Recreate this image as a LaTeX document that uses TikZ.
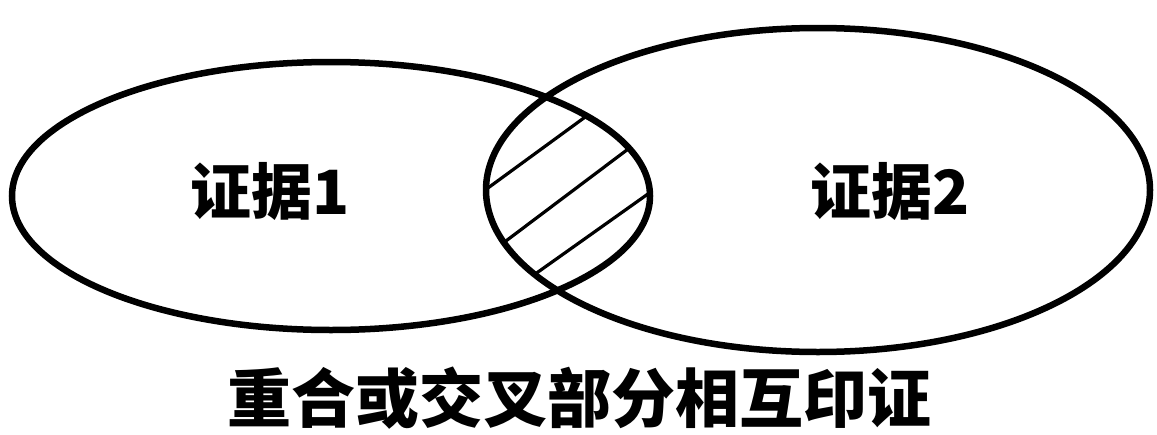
\documentclass[tikz,border=0pt]{standalone}
\usepackage{fontspec}
\newfontfamily\cjk{Noto Sans CJK SC}
\begin{document}
\begin{tikzpicture}[x=1pt,y=-1pt,
  outline/.style={line width=6.5pt,draw=black},
  hatch/.style={line width=3.2pt,draw=black},
  lbl/.style={font=\cjk\bfseries\fontsize{61}{61}\selectfont,inner sep=0pt,anchor=center},
  caption/.style={font=\cjk\bfseries\fontsize{64}{64}\selectfont,inner sep=0pt,anchor=center}]
\useasboundingbox (0,0) rectangle (1157,434);
\fill[white] (0,0) rectangle (1157,434);
% hatching in the overlap
\begin{scope}
  \clip (331,196) ellipse [x radius=319pt, y radius=134pt];
  \clip (818,190) ellipse [x radius=332pt, y radius=162pt];
  \draw[hatch] (440,223) -- (640,77);
  \draw[hatch] (470,268) -- (680,110);
  \draw[hatch] (500,299) -- (700,157);
\end{scope}
\draw[outline] (331,196) ellipse [x radius=319pt, y radius=134pt];
\draw[outline] (818,190) ellipse [x radius=332pt, y radius=162pt];
\node[lbl] (e1) at (270,191) {证据1};
\node[lbl] (e2) at (890,191) {证据2};
\node[caption] (cap) at (579,398) {重合或交叉部分相互印证};
\end{tikzpicture}
\end{document}
